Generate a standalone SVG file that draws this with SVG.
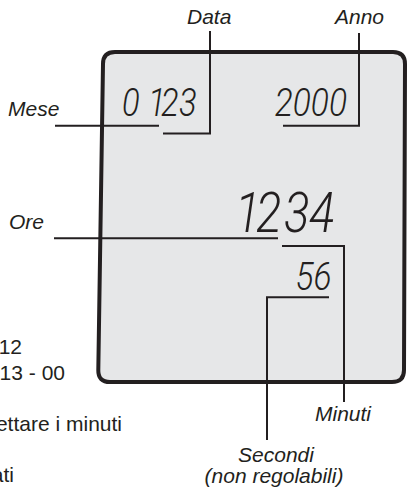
<svg xmlns="http://www.w3.org/2000/svg" width="408" height="491" viewBox="0 0 408 491">
<style>
.lbl{font-family:"Liberation Sans",Arial,sans-serif;font-style:italic;font-size:21px;fill:#231f20}
.side{font-family:"Liberation Sans",Arial,sans-serif;font-size:21px;fill:#231f20}
.lcd{font-family:Roboto,"Liberation Sans",sans-serif;font-style:italic;font-weight:300;fill:#231f20}
.ld{fill:none;stroke:#231f20;stroke-width:2}
</style>
<rect width="408" height="491" fill="#ffffff"/>
<g id="display">
<path d="M115,52 L393,52 Q405,52 405,64 L404,370 Q404,382 392,382 L110,382 Q98,382 98.3,370 L103,64 Q103,52 115,52 Z" fill="#e6e7e8" stroke="#231f20" stroke-width="4"/>
</g>
<g id="side-text">
<text class="side" x="22" y="354" text-anchor="end">12</text>
<text class="side" x="65" y="380" text-anchor="end">13 - 00</text>
<text class="side" x="122" y="431" text-anchor="end">ettare i minuti</text>
<text class="side" x="14" y="482" text-anchor="end">ati</text>
</g>
<g id="lcd-date"><text class="lcd" font-size="39" transform="scale(0.84,1)" x="145.2 167 176.2 191.7 213.1" y="116">0 123</text></g>
<g id="lcd-year"><text class="lcd" font-size="39" transform="scale(0.86,1)" x="319.5" y="116">2000</text></g>
<g id="lcd-time"><text class="lcd" font-size="55" transform="scale(0.86,1)" x="273.3 297.7 330.2 359.3" y="232">1234</text></g>
<g id="lcd-sec"><text class="lcd" font-size="39" transform="scale(0.86,1)" x="343.5" y="290">56</text></g>
<g id="connectors">
<polyline class="ld" points="210,31 210,133.5 163,133.5"/>
<polyline class="ld" points="359,33 359,125.7 283,125.7"/>
<line class="ld" x1="55" y1="125.7" x2="159" y2="125.7"/>
<line class="ld" x1="54" y1="238.3" x2="278" y2="238.3"/>
<polyline class="ld" points="282,246 344,246 344,402"/>
<polyline class="ld" points="329,297.3 267,297.3 267,440"/>
</g>
<g id="label-data"><text class="lbl" x="187" y="24">Data</text></g>
<g id="label-anno"><text class="lbl" x="335" y="24">Anno</text></g>
<g id="label-mese"><text class="lbl" x="8" y="116">Mese</text></g>
<g id="label-ore"><text class="lbl" x="9" y="229">Ore</text></g>
<g id="label-minuti"><text class="lbl" x="315" y="421">Minuti</text></g>
<g id="label-secondi"><text class="lbl" x="276" y="462" text-anchor="middle">Secondi</text><text class="lbl" x="274" y="483" text-anchor="middle">(non regolabili)</text></g>
</svg>
